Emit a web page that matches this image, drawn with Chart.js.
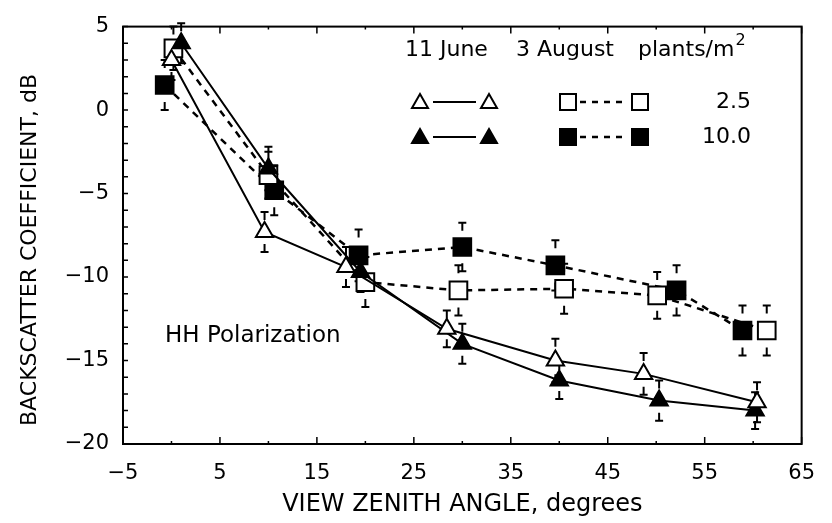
<!DOCTYPE html>
<html lang="en">
<head>
    <meta charset="UTF-8">
    <title>Backscatter vs view zenith angle</title>
    <script src="https://cdn.jsdelivr.net/npm/chart.js@4.4.1/dist/chart.umd.min.js"></script>
    <style>
        html, body { margin: 0; padding: 0; background: #fff; }
        .chart-container { position: relative; width: 832px; height: 523px; }
    </style>
</head>
<body>
    <div class="chart-container">
        <canvas id="bs-chart"></canvas>
    </div>
    <script>
        // tick labels
        const xTicks = [-5, 5, 15, 25, 35, 45, 55, 65];
        const yTicks = [5, 0, -5, -10, -15, -20];

        // 11 June, 2.5 plants/m2 (open triangles)
        const juneLowAngle = [0, 9.6, 18, 28.4, 39.6, 48.7, 60.4];
        const juneLowDb    = [3.0, -7.3, -9.4, -13.1, -15.0, -15.8, -17.5];
        const juneLowErr   = [1.2, 1.2, 1.2, 1.1, 1.3, 1.25, 1.2];

        // 11 June, 10.0 plants/m2 (filled triangles)
        const juneHighAngle = [1, 10, 19.5, 30, 40, 50.3, 60.2];
        const juneHighDb    = [4.0, -3.5, -9.7, -14.0, -16.2, -17.4, -18.0];
        const juneHighErr   = [1.2, 1.3, 1.2, 1.2, 1.1, 1.2, 1.1];

        // 3 August, 2.5 plants/m2 (open squares)
        const augLowAngle = [0.2, 10, 20, 29.6, 40.5, 50.1, 61.4];
        const augLowDb    = [3.7, -3.9, -10.3, -10.8, -10.7, -11.1, -13.2];
        const augLowErr   = [1.3, 1.4, 1.5, 1.5, 1.5, 1.4, 1.5];

        // 3 August, 10.0 plants/m2 (filled squares)
        const augHighAngle = [-0.7, 10.6, 19.3, 30, 39.6, 52.1, 58.9];
        const augHighDb    = [1.5, -4.8, -8.7, -8.2, -9.3, -10.8, -13.2];
        const augHighErr   = [1.5, 1.5, 1.55, 1.45, 1.5, 1.5, 1.5];

        const WIDE = '"DejaVu Sans", Verdana, sans-serif';
        const toPoints = (xs, ys) => xs.map((x, i) => ({ x: x, y: ys[i] }));
        const minus = v => (v < 0 ? '\u2212' + Math.abs(v) : '' + v);

        const series = [
            { label: '11 June 2.5', xs: juneLowAngle, ys: juneLowDb, err: juneLowErr, style: 'triangle', fill: '#fff', dash: [], r: 10 },
            { label: '11 June 10.0', xs: juneHighAngle, ys: juneHighDb, err: juneHighErr, style: 'triangle', fill: '#000', dash: [], r: 10 },
            { label: '3 August 2.5', xs: augLowAngle, ys: augLowDb, err: augLowErr, style: 'rect', fill: '#fff', dash: [7, 6], r: 12.5 },
            { label: '3 August 10.0', xs: augHighAngle, ys: augHighDb, err: augHighErr, style: 'rect', fill: '#000', dash: [7, 6], r: 12.5 }
        ];

        // frame with inward ticks
        const framePlugin = {
            id: 'frame',
            afterDatasetsDraw(chart) {
                const { ctx, chartArea: a, scales: { x, y } } = chart;
                ctx.save();
                ctx.strokeStyle = '#000';
                ctx.lineWidth = 2;
                ctx.strokeRect(a.left, a.top, a.right - a.left, a.bottom - a.top);
                ctx.lineWidth = 1.5;
                ctx.beginPath();
                for (let v = -20; v <= 5; v++) {
                    const py = y.getPixelForValue(v);
                    ctx.moveTo(a.left, py);
                    ctx.lineTo(a.left + 5, py);
                }
                for (let v = -5; v <= 65; v += 5) {
                    const px = x.getPixelForValue(v);
                    const len = (v + 5) % 10 === 0 ? 7 : 3;
                    ctx.moveTo(px, a.bottom);
                    ctx.lineTo(px, a.bottom - len);
                    ctx.moveTo(px, a.top);
                    ctx.lineTo(px, a.top + len);
                }
                ctx.stroke();
                ctx.restore();
            }
        };

        // T-shaped error bars above and below each marker
        const errorPlugin = {
            id: 'errorBars',
            beforeDatasetsDraw(chart) {
                const { ctx, scales: { x, y } } = chart;
                ctx.save();
                ctx.strokeStyle = '#000';
                ctx.lineWidth = 2;
                ctx.beginPath();
                series.forEach(s => {
                    s.xs.forEach((a, i) => {
                        const px = x.getPixelForValue(a);
                        const up = y.getPixelForValue(s.ys[i] + s.err[i]);
                        const dn = y.getPixelForValue(s.ys[i] - s.err[i]);
                        ctx.moveTo(px, up); ctx.lineTo(px, up + 8);
                        ctx.moveTo(px - 4, up); ctx.lineTo(px + 4, up);
                        ctx.moveTo(px, dn); ctx.lineTo(px, dn - 8);
                        ctx.moveTo(px - 4, dn); ctx.lineTo(px + 4, dn);
                    });
                });
                ctx.stroke();
                ctx.restore();
            }
        };

        function marker(ctx, style, fill, cx, cy) {
            ctx.fillStyle = fill;
            ctx.beginPath();
            if (style === 'triangle') {
                ctx.moveTo(cx, cy - 8);
                ctx.lineTo(cx + 8, cy + 6);
                ctx.lineTo(cx - 8, cy + 6);
                ctx.closePath();
            } else {
                ctx.rect(cx - 8, cy - 8, 16, 16);
            }
            ctx.fill();
            ctx.stroke();
        }

        // legend block, annotation and the y title
        const legendPlugin = {
            id: 'legendBlock',
            afterDraw(chart) {
                const ctx = chart.ctx;
                ctx.save();
                ctx.fillStyle = '#000';
                ctx.strokeStyle = '#000';
                ctx.textBaseline = 'middle';
                ctx.font = '22px ' + WIDE;
                ctx.textAlign = 'left';
                ctx.fillText('11 June', 405, 50);
                ctx.fillText('3 August', 516, 50);
                ctx.fillText('plants/m', 638, 50);
                const w = ctx.measureText('plants/m').width;
                ctx.font = '16px ' + WIDE;
                ctx.fillText('2', 639 + w, 41);
                ctx.font = '22px ' + WIDE;
                ctx.textAlign = 'right';
                ctx.fillText('2.5', 751, 102);
                ctx.fillText('10.0', 751, 137);

                const rows = [[102, '#fff'], [137, '#000']];
                rows.forEach(([ry, fill]) => {
                    ctx.lineWidth = 2;
                    ctx.setLineDash([]);
                    ctx.beginPath();
                    ctx.moveTo(433, ry); ctx.lineTo(476, ry);
                    ctx.stroke();
                    marker(ctx, 'triangle', fill, 420, ry);
                    marker(ctx, 'triangle', fill, 489, ry);
                    ctx.setLineDash([6, 6]);
                    ctx.lineWidth = 2.5;
                    ctx.beginPath();
                    ctx.moveTo(580, ry); ctx.lineTo(628, ry);
                    ctx.stroke();
                    ctx.setLineDash([]);
                    ctx.lineWidth = 2;
                    marker(ctx, 'rect', fill, 568, ry);
                    marker(ctx, 'rect', fill, 640, ry);
                });

                ctx.textAlign = 'left';
                ctx.font = '23px ' + WIDE;
                ctx.fillText('HH Polarization', 165, 336);

                ctx.translate(30, 250);
                ctx.rotate(-Math.PI / 2);
                ctx.textAlign = 'center';
                ctx.font = '22px ' + WIDE;
                ctx.fillText('BACKSCATTER COEFFICIENT, dB', 0, 0);
                ctx.restore();
            }
        };

        const chart = new Chart(document.getElementById('bs-chart'), {
            type: 'line',
            data: {
                datasets: series.map(s => ({
                    label: s.label,
                    data: toPoints(s.xs, s.ys),
                    borderColor: '#000',
                    borderWidth: s.dash.length ? 2.5 : 2,
                    borderDash: s.dash,
                    pointStyle: s.style,
                    pointRadius: s.r,
                    pointBackgroundColor: s.fill,
                    pointBorderColor: '#000',
                    pointBorderWidth: 2,
                    tension: 0,
                    fill: false
                }))
            },
            options: {
                responsive: true,
                maintainAspectRatio: false,
                animation: false,
                layout: { padding: { top: 21, right: 19, left: 0, bottom: 0 } },
                plugins: { legend: { display: false }, tooltip: { enabled: false } },
                scales: {
                    x: {
                        type: 'linear',
                        min: -5,
                        max: 65,
                        afterBuildTicks: s => { s.ticks = xTicks.map(v => ({ value: v })); },
                        afterFit: s => { s.height = 79; },
                        grid: { display: false, drawTicks: false },
                        border: { display: false },
                        ticks: {
                            color: '#000',
                            padding: 17,
                            font: { family: WIDE, size: 21 },
                            maxRotation: 0,
                            callback: v => minus(v)
                        },
                        title: {
                            display: true,
                            text: 'VIEW ZENITH ANGLE, degrees',
                            color: '#000',
                            font: { family: WIDE, size: 24 },
                            padding: { top: 7 }
                        }
                    },
                    y: {
                        type: 'linear',
                        min: -20,
                        max: 5,
                        afterBuildTicks: s => { s.ticks = yTicks.map(v => ({ value: v })); },
                        afterFit: s => { s.width = 123; },
                        grid: { display: false, drawTicks: false },
                        border: { display: false },
                        ticks: {
                            color: '#000',
                            padding: 14,
                            font: { family: WIDE, size: 21 },
                            callback: v => minus(v)
                        },
                        title: { display: false }
                    }
                }
            },
            plugins: [errorPlugin, framePlugin, legendPlugin]
        });
    </script>
</body>
</html>
